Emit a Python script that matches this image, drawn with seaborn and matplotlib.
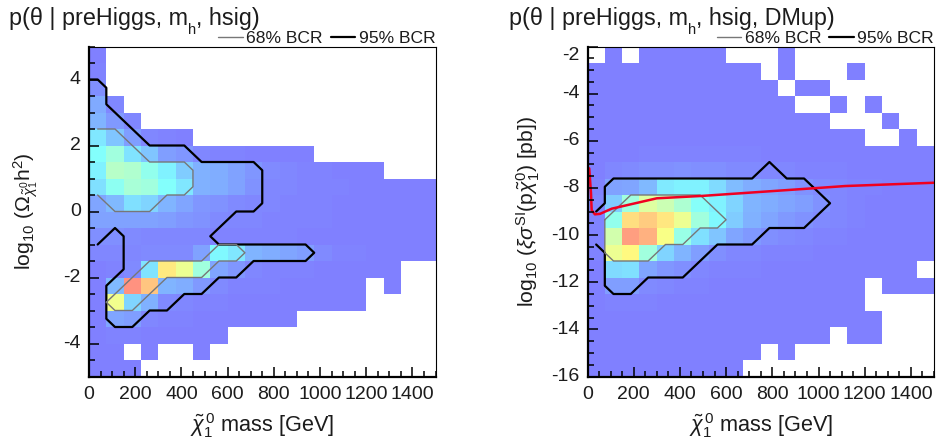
import matplotlib
matplotlib.use("Agg")
import matplotlib.pyplot as plt
from matplotlib.colors import LinearSegmentedColormap
import numpy as np
import seaborn as sns

N = np.nan

# cell values in % of the colour scale, rows from top to bottom, N = empty bin
left_grid = [
    [0, N, N, N, N, N, N, N, N, N, N, N, N, N, N, N, N, N, N, N],
    [1, N, N, N, N, N, N, N, N, N, N, N, N, N, N, N, N, N, N, N],
    [4, N, N, N, N, N, N, N, N, N, N, N, N, N, N, N, N, N, N, N],
    [11, 2, N, N, N, N, N, N, N, N, N, N, N, N, N, N, N, N, N, N],
    [14, 7, 2, N, N, N, N, N, N, N, N, N, N, N, N, N, N, N, N, N],
    [27, 18, 8, 2, 1, 0, N, N, N, N, N, N, N, N, N, N, N, N, N, N],
    [34, 42, 26, 18, 8, 6, 2, 1, 1, 0, 0, 0, 0, N, N, N, N, N, N, N],
    [30, 48, 46, 38, 30, 20, 13, 12, 9, 6, 3, 2, 1, 1, 0, 0, 0, N, N, N],
    [25, 37, 44, 42, 34, 27, 13, 12, 9, 5, 2, 2, 1, 1, 1, 0, 0, 0, 0, 0],
    [10, 15, 25, 22, 14, 10, 6, 5, 3, 2, 2, 1, 1, 1, 0, 0, 0, 0, 0, 0],
    [9, 9, 9, 9, 8, 6, 5, 3, 2, 2, 1, 1, 1, 1, 0, 0, 0, 0, 0, 0],
    [4, 4, 3, 2, 2, 2, 2, 1, 1, 1, 1, 1, 0, 0, 0, 0, 0, 0, 0, 0],
    [2, 2, 2, 3, 3, 3, 9, 32, 27, 14, 12, 10, 8, 3, 1, 1, 0, 0, 0, 0],
    [0, 1, 3, 26, 72, 62, 42, 10, 6, 2, 1, 1, 1, 0, 0, 0, 0, 0, N, N],
    [0, 15, 95, 82, 14, 12, 7, 3, 1, 1, 1, 0, 0, 0, 0, 0, N, 0, N, N],
    [0, 63, 22, 13, 3, 2, 1, 1, 0, 0, 0, 0, 0, 0, 0, 0, N, N, N, N],
    [0, 10, 8, 2, 1, 1, 0, 0, 0, 0, 0, 0, N, N, N, N, N, N, N, N],
    [0, 1, 1, 0, 0, 0, 0, 0, N, N, N, N, N, N, N, N, N, N, N, N],
    [0, 0, N, 0, N, N, 0, N, N, N, N, N, N, N, N, N, N, N, N, N],
    [0, 0, 0, N, N, N, N, N, N, N, N, N, N, N, N, N, N, N, N, N],
]

right_grid = [
    [N, 0, N, 0, 0, 0, 0, 0, N, N, N, 0, N, N, N, N, N, N, N, N],
    [0, 0, 0, 0, 0, 0, 0, 0, 0, 0, N, 0, N, N, N, 0, N, N, N, N],
    [0, 0, 0, 0, 0, 0, 0, 0, 0, 0, 0, N, 0, 0, N, N, N, N, N, N],
    [0, 0, 0, 0, 0, 0, 0, 0, 0, 0, 0, 0, N, N, 0, N, 0, N, N, N],
    [0, 0, 0, 0, 0, 0, 0, 0, 0, 0, 0, 0, 0, 0, N, N, N, 0, N, N],
    [0, 0, 0, 0, 0, 0, 0, 0, 0, 0, 0, 0, 0, 0, 0, 0, N, N, 0, N],
    [0, 0, 0, 1, 1, 1, 1, 1, 1, 1, 0, 0, 0, 0, 0, 0, 0, 0, 0, 0],
    [0, 2, 3, 4, 4, 5, 4, 4, 3, 3, 2, 2, 1, 1, 1, 0, 0, 0, 0, 0],
    [1, 9, 10, 15, 28, 30, 30, 24, 16, 12, 10, 8, 5, 3, 2, 1, 1, 0, 0, 0],
    [2, 20, 42, 58, 53, 45, 35, 30, 22, 14, 12, 10, 8, 5, 2, 1, 0, 0, 0, 0],
    [1, 38, 75, 80, 73, 62, 42, 32, 20, 13, 10, 7, 5, 3, 2, 1, 0, 0, 0, 0],
    [1, 55, 92, 87, 65, 40, 25, 18, 10, 7, 4, 3, 2, 1, 1, 0, 0, 0, 0, 0],
    [1, 62, 68, 42, 22, 14, 8, 4, 2, 2, 1, 1, 1, 0, 0, 0, 0, 0, 0, 0],
    [0, 24, 25, 10, 6, 4, 2, 1, 1, 1, 0, 0, 0, 0, 0, 0, 0, 0, 0, N],
    [0, 8, 8, 3, 2, 1, 1, 0, 0, 0, 0, 0, 0, 0, 0, 0, N, 0, 0, 0],
    [0, 1, 1, 1, 0, 0, 0, 0, 0, 0, 0, 0, 0, 0, 0, 0, N, N, N, N],
    [0, 0, 0, 0, 0, 0, 0, 0, 0, 0, 0, 0, 0, 0, 0, 0, 0, N, N, N],
    [0, 0, 0, 0, 0, 0, 0, 0, 0, 0, 0, 0, 0, 0, N, 0, 0, N, N, N],
    [0, 0, 0, 0, 0, 0, 0, 0, 0, 0, N, 0, N, N, N, N, N, N, N, N],
    [0, 0, 0, 0, 0, 0, 0, 0, 0, N, N, N, N, N, N, N, N, N, N, N],
]

# contours, mass in GeV and log10 value
left_95_x = [0, 37.5, 75, 75, 262.5, 412.5, 487.5, 712.5, 750, 750, 712.5, 637.5, 525, 562.5, 937.5, 975,
             937.5, 712.5, 637.5, 562.5, 487.5, 412.5, 337.5, 262.5, 187.5, 112.5, 75, 75, 150, 150, 112.5, 37.5]
left_95_y = [4, 4, 3.75, 3.25, 2, 2, 1.5, 1.5, 1.25, 0.25, 0, 0, -0.75, -1, -1, -1.25,
             -1.5, -1.5, -2, -2, -2.5, -2.5, -3, -3, -3.5, -3.5, -3.25, -2.25, -1.75, -0.75, -0.5, -1]
left_68a_x = [37.5, 112.5, 262.5, 412.5, 450, 450, 412.5, 337.5, 262.5, 112.5, 37.5]
left_68a_y = [2.5, 2.5, 1.5, 1.5, 1.25, 0.75, 0.5, 0.5, 0, 0, 0.5]
left_68b_x = [75, 262.5, 487.5, 562.5, 637.5, 675, 637.5, 562.5, 487.5, 337.5, 187.5, 112.5, 75]
left_68b_y = [-2.75, -1.5, -1.5, -1, -1, -1.25, -1.5, -1.5, -2, -2, -3, -3, -2.75]

right_95_x = [37.5, 75, 75, 112.5, 712.5, 787.5, 862.5, 937.5, 1050, 937.5, 787.5, 712.5, 562.5, 412.5,
              262.5, 187.5, 112.5, 75, 75, 37.5]
right_95_y = [-9, -8.65, -7.95, -7.6, -7.6, -6.9, -7.6, -7.6, -8.65, -9.7, -9.7, -10.4, -10.4, -11.8,
              -11.8, -12.5, -12.5, -12.15, -10.75, -10.4]
right_68_x = [75, 187.5, 487.5, 600, 562.5, 487.5, 412.5, 337.5, 262.5, 112.5, 75, 75]
right_68_y = [-9.35, -8.3, -8.3, -9.35, -9.7, -9.7, -10.4, -10.4, -11.1, -11.1, -10.75, -9.35]
limit_x = [7.5, 15, 18, 32, 54, 105, 300, 494, 1000, 1115, 1500]
limit_y = [-7.17, -8.2, -8.94, -9.12, -9.1, -8.88, -8.44, -8.34, -8.0, -7.92, -7.78]

mass_ticks = [0, 200, 400, 600, 800, 1000, 1200, 1400]
left_ticks = [4, 2, 0, -2, -4]
right_ticks = [-2, -4, -6, -8, -10, -12, -14, -16]

sns.set_theme(style="ticks")
plt.rcParams["font.family"] = ["Liberation Sans", "DejaVu Sans"]
plt.rcParams["mathtext.fontset"] = "custom"
plt.rcParams["mathtext.rm"] = "Liberation Sans"
plt.rcParams["mathtext.it"] = "Liberation Sans:italic"
plt.rcParams["mathtext.bf"] = "Liberation Sans:bold"

half_jet = LinearSegmentedColormap.from_list(
    "half_jet", ["#8080ff", "#80ffff", "#ffff80", "#ff8080"])

TXT = "#1c1c1c"
TITLE_SIZE = 16.8


def draw_title(fig, x_px, tail):
    # the h subscript sits well under the baseline, so the title is three chained texts
    t1 = fig.text(x_px / 940, 1 - 19 / 447, "p(\u03b8 | preHiggs, m", fontsize=TITLE_SIZE, color=TXT,
                  ha="left", va="center")
    t2 = plt.annotate("h", xy=(1, 0), xycoords=t1, xytext=(0, -5), textcoords="offset points",
                      fontsize=10.5, color=TXT, ha="left", va="bottom", annotation_clip=False)
    plt.annotate(tail, xy=(1, 0), xycoords=(t2, t1), xytext=(0, 0), textcoords="offset points",
                 fontsize=TITLE_SIZE, color=TXT, ha="left", va="bottom", annotation_clip=False)


def draw_panel(fig, pos, grid, ytop, ybot, yticks, ylabel, ylabel_x):
    ax = fig.add_axes(pos)
    sns.heatmap(np.array(grid, dtype=float), vmin=0, vmax=100, cmap=half_jet, cbar=False, ax=ax,
                xticklabels=False, yticklabels=False)
    ybin = (ytop - ybot) / 20

    ax.set_xticks([m / 75 for m in mass_ticks])
    ax.set_xticklabels(mass_ticks, fontsize=14, color=TXT, rotation=0)
    ax.set_xticks([m / 75 for m in np.arange(0, 1501, 50)], minor=True)
    ax.set_yticks([(ytop - v) / ybin for v in yticks])
    ax.set_yticklabels(yticks, fontsize=14, color=TXT, rotation=0, va="center")
    ax.set_yticks([(ytop - v) / ybin for v in np.arange(ybot, ytop + 0.1, 0.5)], minor=True)
    ax.set_axisbelow(False)

    for side in ["top", "right"]:
        ax.spines[side].set_visible(True)
        ax.spines[side].set_linewidth(0.8)
    for side in ["left", "bottom"]:
        ax.spines[side].set_visible(True)
        ax.spines[side].set_linewidth(1.6)
    for sp in ax.spines.values():
        sp.set_color("black")

    ax.set_xlabel(r"$\tilde{\chi}_{1}^{\,0}$ mass [GeV]", fontsize=15.6, color=TXT, labelpad=6)
    fig.text(ylabel_x, pos[1] + pos[3] / 2, ylabel, rotation=90, fontsize=15.2, color=TXT,
             ha="center", va="center")
    return ax, ybin


def style_ticks(ax):
    # done last, once the lines and legend are on the axes
    ax.tick_params(which="both", bottom=True, left=True, top=False, right=False,
                   labelbottom=True, labelleft=True)
    ax.tick_params(which="major", direction="in", length=7.5, width=1.1, color="black", pad=6, zorder=5)
    ax.tick_params(which="minor", direction="in", length=4, width=1.1, color="black", zorder=5)
    ax.tick_params(axis="x", which="major", pad=7)
    for axis in [ax.xaxis, ax.yaxis]:
        for t in axis.get_major_ticks() + axis.get_minor_ticks():
            t.tick1line.set_visible(True)
            t.tick1line.set_markeredgecolor("black")


def draw_line(ax, xs, ys, ytop, ybin, **kw):
    ax.plot([v / 75 for v in xs], [(ytop - v) / ybin for v in ys], **kw)


def add_legend(ax):
    h1, = ax.plot([], [], color="#777777", lw=1.0)
    h2, = ax.plot([], [], color="black", lw=1.6)
    ax.legend([h1, h2], ["68% BCR", "95% BCR"], ncol=2, frameon=False, fontsize=12.6,
              loc="lower right", bbox_to_anchor=(1.025, 0.976), handlelength=1.4,
              handletextpad=0.2, columnspacing=0.45, borderpad=0, labelcolor=TXT)


fig = plt.figure(figsize=(9.4, 4.47), dpi=100)

ax1, ybin1 = draw_panel(fig, [89 / 940, 70.5 / 447, 346.5 / 940, 330 / 447], left_grid, 5, -5, left_ticks,
                        r"log$_{10}$ ($\Omega_{\tilde{\chi}_{1}^{0}}$h$^{2}$)", 26 / 940)
draw_line(ax1, left_95_x, left_95_y, 5, ybin1, color="black", lw=1.6)
draw_line(ax1, left_68a_x, left_68a_y, 5, ybin1, color="#777777", lw=1.0)
draw_line(ax1, left_68b_x, left_68b_y, 5, ybin1, color="#777777", lw=1.0)
add_legend(ax1)
style_ticks(ax1)
draw_title(fig, 9, ", hsig)")

ax2, ybin2 = draw_panel(fig, [587.5 / 940, 70.5 / 447, 346.5 / 940, 330 / 447], right_grid, -2, -16, right_ticks,
                        r"log$_{10}$ ($\xi\sigma^{\mathrm{SI}}$(p$\tilde{\chi}_{1}^{0}$) [pb])", 528 / 940)
ax2.get_yticklabels()[0].set_va("top")
draw_line(ax2, right_95_x, right_95_y, -2, ybin2, color="black", lw=1.6)
draw_line(ax2, right_68_x, right_68_y, -2, ybin2, color="#777777", lw=1.0)
draw_line(ax2, limit_x, limit_y, -2, ybin2, color="#f00020", lw=1.8)
add_legend(ax2)
style_ticks(ax2)
draw_title(fig, 509, ", hsig, DMup)")

fig.savefig("out.png", dpi=100)
